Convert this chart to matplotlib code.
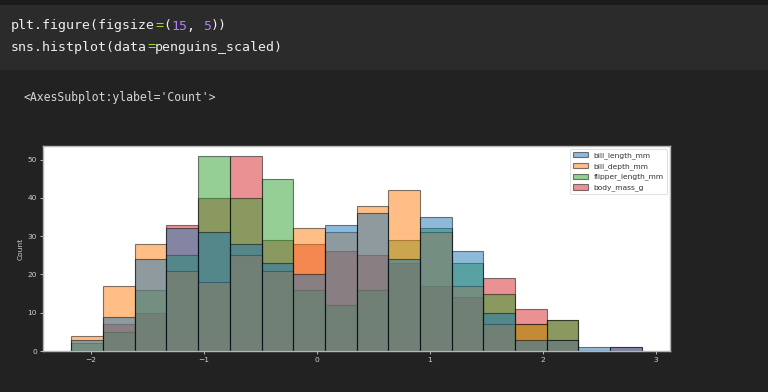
import numpy as np
import matplotlib
matplotlib.use("Agg")
import matplotlib.pyplot as plt
from matplotlib.patches import Rectangle, Patch

# ---- data ----
bin_lo, bin_hi, n_bins = -2.17, 2.87, 18
series = ["bill_length_mm", "bill_depth_mm", "flipper_length_mm", "body_mass_g"]
bill_length = [3, 9, 24, 32, 31, 28, 23, 20, 33, 36, 24, 35, 26, 10, 3, 3, 1, 1]
bill_depth = [4, 17, 28, 21, 18, 25, 21, 32, 31, 38, 42, 31, 17, 7, 7, 3, 0, 0]
flipper_length = [2, 5, 16, 25, 51, 40, 45, 16, 12, 16, 29, 32, 23, 15, 7, 8, 0, 0]
body_mass = [0, 7, 10, 33, 40, 51, 29, 28, 26, 25, 23, 17, 14, 19, 11, 8, 0, 1]
colors = ["#1f77b4", "#ff7f0e", "#2ca02c", "#d62728"]
xticks = [-2, -1, 0, 1, 2, 3]
yticks = [0, 10, 20, 30, 40, 50]

W, H = 768, 392
fig = plt.figure(figsize=(W / 100, H / 100), dpi=100)
fig.patch.set_facecolor("#222222")

def px(x, y):
    return x / W, 1 - y / H

# notebook background pieces
fig.patches.append(Rectangle((0, 1 - 5 / H), 1, 5 / H, transform=fig.transFigure,
                             facecolor="#1b1b1b", edgecolor="none", zorder=0))
fig.patches.append(Rectangle((0, 1 - 70 / H), 1, 65 / H, transform=fig.transFigure,
                             facecolor="#2b2b2b", edgecolor="none", zorder=0))

# code text
mono = "DejaVu Sans Mono"
cw = 8.0
fs_code = cw / 0.602 * 72 / 100
white, green, purple = "#eeeeee", "#a6e22e", "#ae81ff"
line1 = [("plt.figure(figsize", white), ("=", green), ("(", white), ("15", purple),
         (", ", white), ("5", purple), ("))", white)]
line2 = [("sns.histplot(data", white), ("=", green), ("penguins_scaled)", white)]
for segs, yc in [(line1, 26), (line2, 47)]:
    i = 0
    for s, c in segs:
        fig.text(*px(11 + cw * i, yc), s, family=mono, fontsize=fs_code, color=c,
                 va="center", ha="left")
        i += len(s)
fs_out = 6.96 / 0.602 * 72 / 100
fig.text(*px(23, 97), "<AxesSubplot:ylabel='Count'>", family=mono, fontsize=fs_out,
         color="#d6d6d6", va="center", ha="left")

# axes
ax = fig.add_axes([43 / W, 1 - 351 / H, (670 - 43) / W, (351 - 146) / H])
ax.set_facecolor("white")
edges = np.linspace(bin_lo, bin_hi, n_bins + 1)
widths = np.diff(edges)
data = {"bill_length_mm": bill_length, "bill_depth_mm": bill_depth,
        "flipper_length_mm": flipper_length, "body_mass_g": body_mass}
for name, col in reversed(list(zip(series, colors))):
    ax.bar(edges[:-1], data[name], width=widths, align="edge", facecolor=col,
           edgecolor="black", alpha=0.5, linewidth=0.8)

tick_fs = 5.4
tc = "#cfcfcf"
ax.set_xticks(xticks)
ax.set_xticklabels([f"{t}".replace("-", "\u2212") for t in xticks])
ax.set_yticks(yticks)
ax.tick_params(axis="both", colors=tc, labelsize=tick_fs, length=2.2, width=0.6, pad=2)
for sp in ax.spines.values():
    sp.set_color("#b5b5b5")
    sp.set_linewidth(1.0)
ax.set_ylabel("Count", color=tc, fontsize=tick_fs, labelpad=3)
ax.margins(x=0.05, y=0.05)
ax.set_ylim(0, 53.55)

handles = [Patch(facecolor=c, edgecolor="black", alpha=0.5, linewidth=0.8) for c in colors]
leg = ax.legend(handles, series, loc="upper right", fontsize=tick_fs, frameon=True,
                handlelength=2.0, handleheight=0.7, borderpad=0.4, labelspacing=0.5,
                handletextpad=0.8, borderaxespad=0.4)
leg.get_frame().set_edgecolor("#d0d0d0")
leg.get_frame().set_linewidth(0.6)
for t in leg.get_texts():
    t.set_color("#333333")

fig.savefig("out.png", dpi=100, facecolor=fig.get_facecolor())
